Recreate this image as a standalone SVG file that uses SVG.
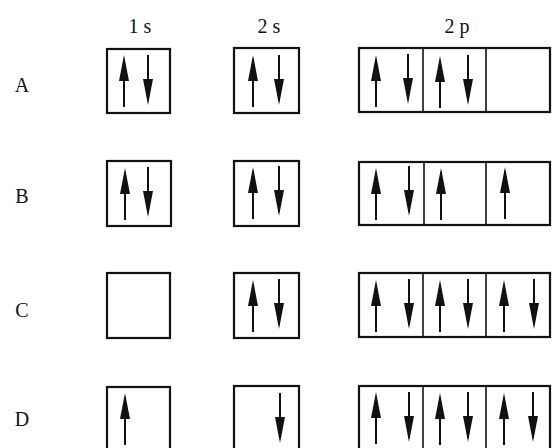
<svg xmlns="http://www.w3.org/2000/svg" xmlns:xlink="http://www.w3.org/1999/xlink" width="552" height="448" viewBox="0 0 552 448">
<style>
  .lbl { font-family: "Liberation Serif", "Times New Roman", serif; font-size: 20px; fill: #111; }
  .box { fill: #fff; stroke: #111; stroke-width: 2.2; }
  .div { stroke: #111; stroke-width: 1.6; }
  .sh { stroke: #111; stroke-width: 2; }
  .hd { fill: #111; }
</style>
<defs>
  <g id="up"><line class="sh" x1="0" y1="4" x2="0" y2="52"/><polygon class="hd" points="0,0 -5,26 5,26"/></g>
  <g id="dn"><line class="sh" x1="0" y1="0" x2="0" y2="46"/><polygon class="hd" points="0,50 -5,24 5,24"/></g>
</defs>
<rect width="552" height="448" fill="#fff"/>
<g id="headers">
  <text class="lbl" x="140" y="33" text-anchor="middle">1 s</text>
  <text class="lbl" x="269" y="33" text-anchor="middle">2 s</text>
  <text class="lbl" x="457" y="33" text-anchor="middle">2 p</text>
</g>
<g id="rowlabels">
  <text class="lbl" x="22" y="92" text-anchor="middle">A</text>
  <text class="lbl" x="22" y="203" text-anchor="middle">B</text>
  <text class="lbl" x="22" y="317" text-anchor="middle">C</text>
  <text class="lbl" x="22" y="426" text-anchor="middle">D</text>
</g>
<!-- Row A -->
<g id="A1s"><rect class="box" x="107" y="49" width="63" height="64"/><use xlink:href="#up" x="124" y="55"/><use xlink:href="#dn" x="148" y="55"/></g>
<g id="A2s"><rect class="box" x="234" y="48" width="65" height="65"/><use xlink:href="#up" x="253" y="55"/><use xlink:href="#dn" x="279" y="55"/></g>
<g id="A2p"><rect class="box" x="359" y="48" width="191" height="64"/><line class="div" x1="423" y1="48" x2="423" y2="112"/><line class="div" x1="486" y1="48" x2="486" y2="112"/>
  <use xlink:href="#up" x="376" y="55"/><use xlink:href="#dn" x="408" y="54"/><use xlink:href="#up" x="440" y="56"/><use xlink:href="#dn" x="468" y="55"/></g>
<!-- Row B -->
<g id="B1s"><rect class="box" x="107" y="161" width="64" height="65"/><use xlink:href="#up" x="125" y="168"/><use xlink:href="#dn" x="148" y="167"/></g>
<g id="B2s"><rect class="box" x="234" y="161" width="65" height="65"/><use xlink:href="#up" x="253" y="167"/><use xlink:href="#dn" x="279" y="166"/></g>
<g id="B2p"><rect class="box" x="359" y="162" width="191" height="63"/><line class="div" x1="424" y1="162" x2="424" y2="225"/><line class="div" x1="486" y1="162" x2="486" y2="225"/>
  <use xlink:href="#up" x="376" y="168"/><use xlink:href="#dn" x="409" y="166"/><use xlink:href="#up" x="441" y="168"/><use xlink:href="#up" x="505" y="167"/></g>
<!-- Row C -->
<g id="C1s"><rect class="box" x="107" y="273" width="63" height="65"/></g>
<g id="C2s"><rect class="box" x="234" y="273" width="65" height="65"/><use xlink:href="#up" x="253" y="280"/><use xlink:href="#dn" x="279" y="279"/></g>
<g id="C2p"><rect class="box" x="359" y="273" width="191" height="64"/><line class="div" x1="423" y1="273" x2="423" y2="337"/><line class="div" x1="486" y1="273" x2="486" y2="337"/>
  <use xlink:href="#up" x="376" y="280"/><use xlink:href="#dn" x="409" y="279"/><use xlink:href="#up" x="440" y="280"/><use xlink:href="#dn" x="468" y="279"/><use xlink:href="#up" x="504" y="280"/><use xlink:href="#dn" x="534" y="279"/></g>
<!-- Row D -->
<g id="D1s"><rect class="box" x="107" y="387" width="63" height="66"/><use xlink:href="#up" x="125" y="393"/></g>
<g id="D2s"><rect class="box" x="234" y="386" width="65" height="67"/><use xlink:href="#dn" x="280" y="393"/></g>
<g id="D2p"><rect class="box" x="359" y="386" width="191" height="67"/><line class="div" x1="423" y1="386" x2="423" y2="453"/><line class="div" x1="486" y1="386" x2="486" y2="453"/>
  <use xlink:href="#up" x="376" y="392"/><use xlink:href="#dn" x="409" y="392"/><use xlink:href="#up" x="440" y="393"/><use xlink:href="#dn" x="468" y="392"/><use xlink:href="#up" x="504" y="393"/><use xlink:href="#dn" x="533" y="392"/></g>
</svg>
